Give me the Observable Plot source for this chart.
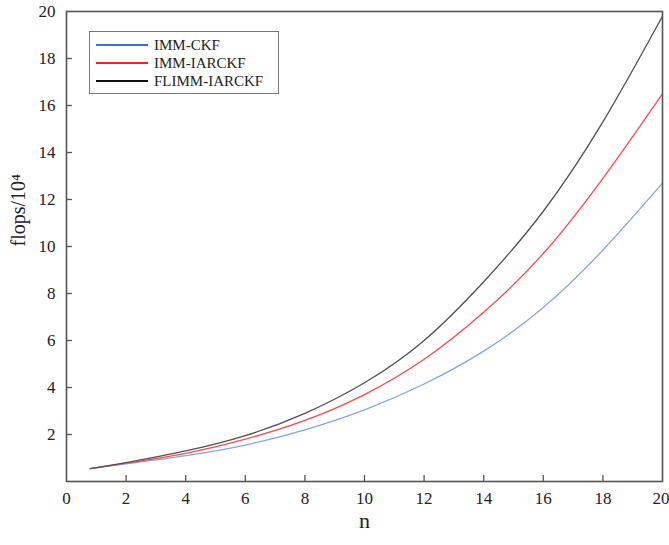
<!DOCTYPE html>
<html><head><meta charset="utf-8">
<script src="https://cdn.jsdelivr.net/npm/d3@7"></script>
<script src="https://cdn.jsdelivr.net/npm/@observablehq/plot@0.6"></script>
<style>
body{margin:0;background:#fff;}
#wrap{position:relative;width:669px;height:545px;font-family:"Liberation Serif","Times New Roman","DejaVu Serif",serif;}
#wrap svg text{font-family:"Liberation Serif","Times New Roman","DejaVu Serif",serif !important;}
#legend{position:absolute;left:89px;top:31px;width:190px;height:63px;border:1.5px solid #777;background:#fff;box-sizing:border-box;font-size:15px;color:#222;font-family:"Liberation Serif","Times New Roman","DejaVu Serif",serif;}
.row{position:absolute;left:6px;height:18px;display:flex;align-items:center;}
.sw{width:52px;height:2px;margin-right:6px;}
</style></head>
<body><div id="wrap"></div>
<script>
const n = [0.8, 2, 4, 6, 8, 10, 12, 14, 16, 18, 20];
const immCkf = [0.55, 0.75, 1.1, 1.55, 2.2, 3.05, 4.15, 5.55, 7.4, 9.85, 12.7];
const immIarckf = [0.55, 0.78, 1.2, 1.8, 2.6, 3.7, 5.2, 7.2, 9.7, 12.9, 16.5];
const flimmIarckf = [0.55, 0.8, 1.3, 1.95, 2.9, 4.2, 6.0, 8.5, 11.5, 15.3, 19.8];
const seriesNames = ["IMM-CKF", "IMM-IARCKF", "FLIMM-IARCKF"];
const seriesColors = ["#80a8e8", "#ff4a4a", "#505050"];
const legendColors = ["#3a6fd8", "#ff2020", "#111111"];
const xTicks = [0, 2, 4, 6, 8, 10, 12, 14, 16, 18, 20];
const yTicks = [2, 4, 6, 8, 10, 12, 14, 16, 18, 20];

const allSeries = [immCkf, immIarckf, flimmIarckf];
const rows = [];
allSeries.forEach((vals, s) => vals.forEach((v, i) => rows.push({n: n[i], v, s: seriesNames[s]})));

const font = "'Liberation Serif', 'Times New Roman', serif";
const chart = Plot.plot({
  width: 669, height: 545,
  marginLeft: 66, marginRight: 7, marginTop: 11, marginBottom: 64,
  style: {fontFamily: font, fontSize: "16px", color: "#222", background: "#fff"},
  x: {domain: [0, 20]},
  y: {domain: [0, 20]},
  color: {domain: seriesNames, range: seriesColors},
  marks: [
    Plot.axisX(xTicks.slice(0, -1), {tickSize: 0, tickPadding: 10, label: null, fontSize: 17}),
    Plot.axisX(xTicks.slice(-1), {tickSize: 0, tickPadding: 10, label: null, fontSize: 17, textAnchor: "end", dx: 7}),
    Plot.axisY(yTicks, {tickSize: 0, tickPadding: 11, label: null, fontSize: 17}),
    Plot.ruleX(xTicks.slice(1, -1), {x: d => d, y1: 0, y2: 0.26, stroke: "#555", strokeWidth: 1.3}),
    Plot.ruleY(yTicks.slice(0, -1), {y: d => d, x1: 0, x2: 0.2, stroke: "#555", strokeWidth: 1.3}),
    Plot.line(rows, {x: "n", y: "v", z: "s", stroke: "s", strokeWidth: 1.3, curve: "natural"}),
    Plot.frame({stroke: "#555", strokeWidth: 1.6}),
    Plot.text(["n"], {frameAnchor: "bottom", text: d => d, dy: 46, fontSize: 22, fill: "#222"}),
    Plot.text(["flops/10⁴"], {frameAnchor: "left", text: d => d, rotate: -90, dx: -48, fontSize: 20, fill: "#222"})
  ]
});
const wrap = document.getElementById("wrap");
wrap.appendChild(chart);
const leg = document.createElement("div");
leg.id = "legend";
seriesNames.forEach((name, i) => {
  const r = document.createElement("div");
  r.className = "row";
  r.style.top = (4 + i * 18) + "px";
  r.innerHTML = `<div class="sw" style="background:${legendColors[i]}"></div><span>${name}</span>`;
  leg.appendChild(r);
});
wrap.appendChild(leg);
</script></body></html>
